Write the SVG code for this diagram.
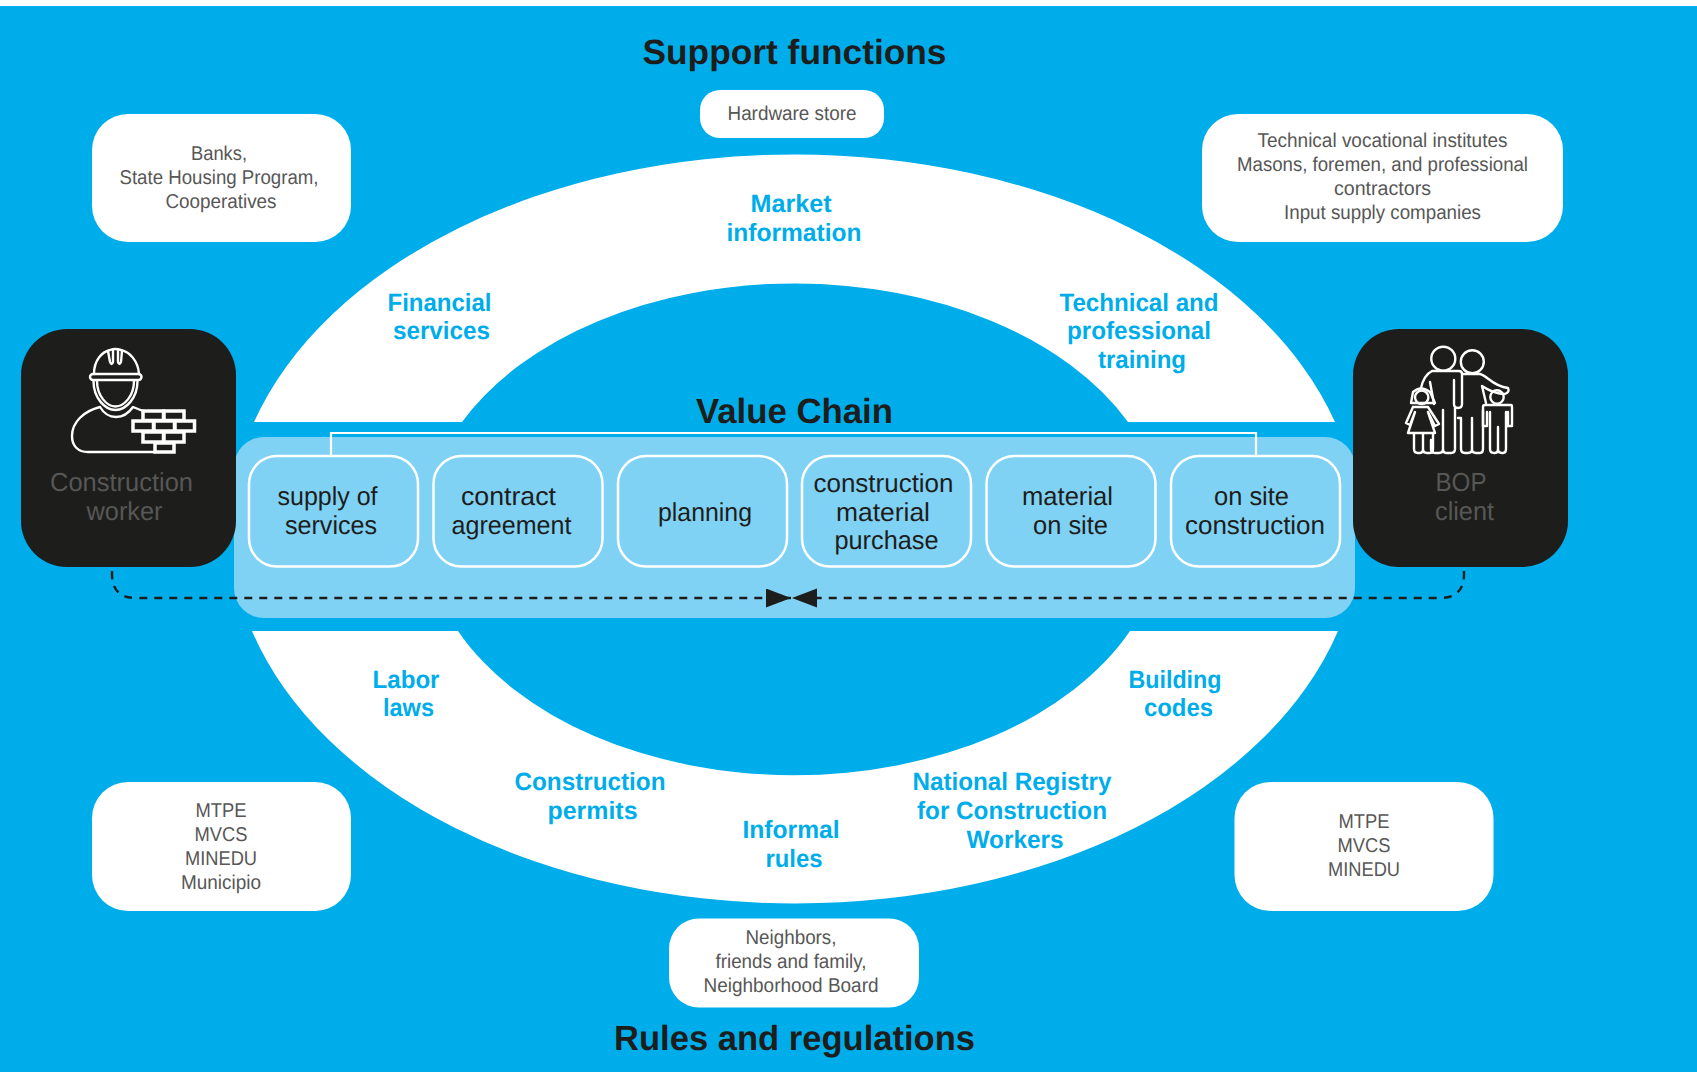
<svg xmlns="http://www.w3.org/2000/svg" width="1697" height="1072" viewBox="0 0 1697 1072">
<style>
text{font-family:"Liberation Sans",Arial,sans-serif;text-anchor:middle;text-rendering:geometricPrecision}
.h{font-size:35px;font-weight:700;fill:#1d1d1b}
.b{font-size:25px;font-weight:700;fill:#00adeb}
.p{font-size:20px;fill:#575756}
.s{font-size:26px;fill:#1d1d1b}
.n{font-size:26px;fill:#575756}
.pill{fill:#fff}
.step{fill:#80d2f5;stroke:#fff;stroke-width:2.5}
.black{fill:#1d1d1b}
.ic{fill:none;stroke:#fff;stroke-width:2.4;stroke-linecap:round;stroke-linejoin:round}
.br{fill:#1d1d1b;stroke:#fff;stroke-width:3.5}
.dash{fill:none;stroke:#1d1d1b;stroke-width:2.4;stroke-dasharray:8 7}
</style>
<defs>
<marker id="tip" markerUnits="userSpaceOnUse" markerWidth="26" markerHeight="20" refX="25" refY="9.5" orient="auto"><path d="M0 0L25 9.5L0 19Z" fill="#1d1d1b"/></marker>
</defs>
<rect width="1697" height="1072" fill="#fff"/>
<rect y="6" width="1697" height="1066" fill="#00adeb"/>
<g id="ring">
<path d="M254 422A564 374.500 0 0 1 1335 422H1128A370 245.700 0 0 0 462 422Z" fill="#fff"/>
<path d="M252 631A564.500 375 0 0 0 1338 631H1130A369 245.700 0 0 1 458 631Z" fill="#fff"/>
</g>
<g id="value-chain-panel"><rect x="234" y="437" width="1121" height="181" rx="30" fill="#80d2f5"/></g>
<text class="h" x="794.500" y="64" textLength="304" lengthAdjust="spacingAndGlyphs">Support functions</text>
<text class="h" x="794.500" y="423" textLength="197" lengthAdjust="spacingAndGlyphs">Value Chain</text>
<text class="h" x="794.500" y="1050" textLength="361" lengthAdjust="spacingAndGlyphs">Rules and regulations</text>
<g id="labels-ring">
<text class="b" x="791" y="212" textLength="81" lengthAdjust="spacingAndGlyphs">Market</text>
<text class="b" x="794" y="241" textLength="135" lengthAdjust="spacingAndGlyphs">information</text>
<text class="b" x="439.500" y="310.500" textLength="104" lengthAdjust="spacingAndGlyphs">Financial</text>
<text class="b" x="441.500" y="339" textLength="97" lengthAdjust="spacingAndGlyphs">services</text>
<text class="b" x="1139" y="310.500" textLength="159" lengthAdjust="spacingAndGlyphs">Technical and</text>
<text class="b" x="1139" y="339" textLength="144" lengthAdjust="spacingAndGlyphs">professional</text>
<text class="b" x="1142" y="368" textLength="88" lengthAdjust="spacingAndGlyphs">training</text>
<text class="b" x="406" y="688" textLength="67" lengthAdjust="spacingAndGlyphs">Labor</text>
<text class="b" x="408.500" y="716" textLength="51" lengthAdjust="spacingAndGlyphs">laws</text>
<text class="b" x="1175" y="688" textLength="93" lengthAdjust="spacingAndGlyphs">Building</text>
<text class="b" x="1178.500" y="716" textLength="69" lengthAdjust="spacingAndGlyphs">codes</text>
<text class="b" x="590" y="790" textLength="151" lengthAdjust="spacingAndGlyphs">Construction</text>
<text class="b" x="592.500" y="819" textLength="90" lengthAdjust="spacingAndGlyphs">permits</text>
<text class="b" x="791" y="838" textLength="97" lengthAdjust="spacingAndGlyphs">Informal</text>
<text class="b" x="794" y="867" textLength="57" lengthAdjust="spacingAndGlyphs">rules</text>
<text class="b" x="1012" y="790" textLength="199" lengthAdjust="spacingAndGlyphs">National Registry</text>
<text class="b" x="1012" y="819" textLength="190" lengthAdjust="spacingAndGlyphs">for Construction</text>
<text class="b" x="1015" y="848" textLength="97" lengthAdjust="spacingAndGlyphs">Workers</text>
</g>
<g id="hardware-store"><rect class="pill" x="700" y="90" width="184" height="48" rx="20"/>
<text class="p" x="792" y="120" textLength="129" lengthAdjust="spacingAndGlyphs">Hardware store</text></g>
<g id="banks"><rect class="pill" x="92" y="114" width="259" height="128" rx="36"/>
<text class="p" x="219" y="160" textLength="56" lengthAdjust="spacingAndGlyphs">Banks,</text>
<text class="p" x="219" y="184" textLength="199" lengthAdjust="spacingAndGlyphs">State Housing Program,</text>
<text class="p" x="221" y="208" textLength="111" lengthAdjust="spacingAndGlyphs">Cooperatives</text></g>
<g id="technical"><rect class="pill" x="1202" y="114" width="361" height="128" rx="36"/>
<text class="p" x="1382.500" y="147" textLength="250" lengthAdjust="spacingAndGlyphs">Technical vocational institutes</text>
<text class="p" x="1382.500" y="171" textLength="291" lengthAdjust="spacingAndGlyphs">Masons, foremen, and professional</text>
<text class="p" x="1382.500" y="195" textLength="97" lengthAdjust="spacingAndGlyphs">contractors</text>
<text class="p" x="1382.500" y="219" textLength="197" lengthAdjust="spacingAndGlyphs">Input supply companies</text></g>
<g id="regulators-left"><rect class="pill" x="92" y="782" width="259" height="129" rx="36"/>
<text class="p" x="221" y="817" textLength="51" lengthAdjust="spacingAndGlyphs">MTPE</text>
<text class="p" x="221" y="841" textLength="53" lengthAdjust="spacingAndGlyphs">MVCS</text>
<text class="p" x="221" y="865" textLength="72" lengthAdjust="spacingAndGlyphs">MINEDU</text>
<text class="p" x="221" y="889" textLength="80" lengthAdjust="spacingAndGlyphs">Municipio</text></g>
<g id="regulators-right"><rect class="pill" x="1234.500" y="782" width="259" height="129" rx="36"/>
<text class="p" x="1364" y="828" textLength="51" lengthAdjust="spacingAndGlyphs">MTPE</text>
<text class="p" x="1364" y="852" textLength="53" lengthAdjust="spacingAndGlyphs">MVCS</text>
<text class="p" x="1364" y="876" textLength="72" lengthAdjust="spacingAndGlyphs">MINEDU</text></g>
<g id="neighbors"><rect class="pill" x="669" y="918.500" width="250" height="89" rx="30"/>
<text class="p" x="791" y="944" textLength="91" lengthAdjust="spacingAndGlyphs">Neighbors,</text>
<text class="p" x="791" y="968" textLength="151" lengthAdjust="spacingAndGlyphs">friends and family,</text>
<text class="p" x="791" y="992" textLength="175" lengthAdjust="spacingAndGlyphs">Neighborhood Board</text></g>
<g id="connectors">
<path d="M331 456V433H1256V456" fill="none" stroke="#fff" stroke-width="2.200"/>
<path class="dash" d="M112 571V574Q112 598 136 598H791" marker-end="url(#tip)"/>
<path class="dash" d="M1464 571V574Q1464 598 1440 598H792" marker-end="url(#tip)"/>
</g>
<g id="step-1"><rect class="step" x="249" y="456" width="169" height="110.500" rx="28"/>
<text class="s" x="327.500" y="505" textLength="100" lengthAdjust="spacingAndGlyphs">supply of</text><text class="s" x="331" y="534" textLength="92" lengthAdjust="spacingAndGlyphs">services</text></g>
<g id="step-2"><rect class="step" x="433.500" y="456" width="169" height="110.500" rx="28"/>
<text class="s" x="508.500" y="505" textLength="95" lengthAdjust="spacingAndGlyphs">contract</text><text class="s" x="511.500" y="534" textLength="120" lengthAdjust="spacingAndGlyphs">agreement</text></g>
<g id="step-3"><rect class="step" x="618" y="456" width="169" height="110.500" rx="28"/>
<text class="s" x="705" y="520.500" textLength="94" lengthAdjust="spacingAndGlyphs">planning</text></g>
<g id="step-4"><rect class="step" x="802" y="456" width="169" height="110.500" rx="28"/>
<text class="s" x="883.500" y="492" textLength="140" lengthAdjust="spacingAndGlyphs">construction</text><text class="s" x="883" y="520.500" textLength="94" lengthAdjust="spacingAndGlyphs">material</text><text class="s" x="886.500" y="549" textLength="104" lengthAdjust="spacingAndGlyphs">purchase</text></g>
<g id="step-5"><rect class="step" x="986.500" y="456" width="169" height="110.500" rx="28"/>
<text class="s" x="1067.500" y="505" textLength="91" lengthAdjust="spacingAndGlyphs">material</text><text class="s" x="1070.500" y="534" textLength="75" lengthAdjust="spacingAndGlyphs">on site</text></g>
<g id="step-6"><rect class="step" x="1171" y="456" width="169" height="110.500" rx="28"/>
<text class="s" x="1251.500" y="505" textLength="75" lengthAdjust="spacingAndGlyphs">on site</text><text class="s" x="1255" y="534" textLength="140" lengthAdjust="spacingAndGlyphs">construction</text></g>
<g id="construction-worker">
<rect class="black" x="21" y="329" width="215" height="238" rx="46"/>
<path class="ic" d="M94 374C94 360 102 352 110 350Q115 348 121 350C130 352 138 361 139 374"/>
<path class="ic" d="M108 351L110 362Q112 366 113 362L113 350M122 351L121 362Q119 366 118 362L118 350"/>
<rect class="ic" x="90" y="374" width="51.500" height="6" rx="3"/>
<path class="ic" d="M93.500 381C93.500 398 105 410 115.500 410C126 410 137.500 398 137.500 381M97 381C97 396 107 406.500 115.500 406.500C124 406.500 134 396 134 381"/>
<path class="ic" d="M100 407C84 411 72 422 72 436C72 446 78 452 88 452H155M100 407Q106 417 116 417Q126 417 133 407L143 411"/>
<g>
<rect class="br" x="143" y="411" width="20.500" height="9.500"/><rect class="br" x="164" y="411" width="20" height="9.500"/>
<rect class="br" x="133" y="421" width="20.500" height="10"/><rect class="br" x="154" y="421" width="20.500" height="10"/><rect class="br" x="175" y="421" width="19.500" height="10"/>
<rect class="br" x="143" y="432" width="20.500" height="10"/><rect class="br" x="164" y="432" width="20" height="10"/>
<rect class="br" x="155" y="443" width="19" height="9"/>
</g>
<text class="n" x="121.500" y="491" textLength="143" lengthAdjust="spacingAndGlyphs">Construction</text><text class="n" x="124.500" y="520" textLength="76" lengthAdjust="spacingAndGlyphs">worker</text>
</g>
<g id="bop-client">
<rect class="black" x="1353" y="329" width="215" height="238" rx="46"/>
<circle class="ic" cx="1443.300" cy="358.700" r="12"/><circle class="ic" cx="1472.300" cy="361.700" r="11.500"/>
<path class="ic" d="M1421 388Q1424 375 1432 371H1459Q1462 371 1462 374V404Q1462 408 1458 408Q1454 408 1454 404V380M1430 382L1434 404M1455 408V449Q1455 453 1451 453H1446Q1443 453 1443 449V410M1443 449Q1443 453 1439 453H1435Q1431 453 1431 449V440"/>
<path class="ic" d="M1463 374H1480C1488 376 1492 386 1508 388Q1510 392 1505 394C1495 394 1488 390 1482 386L1486 403M1458 418H1461V449Q1461 453 1465 453H1468Q1472 453 1472 449V418M1472 449Q1472 453 1476 453H1480Q1483 453 1483 449V410"/>
<circle class="ic" cx="1421.700" cy="397.300" r="6.700"/>
<path class="ic" d="M1413 392Q1421 385 1430 392L1435 403H1411Z"/>
<path class="ic" d="M1413 407H1428L1439 424L1435 426L1428 412M1413 407L1406 423L1410 425L1415 412L1408 433H1435L1428 412M1414 433V449Q1414 453 1418 453H1420Q1423 453 1423 449V433M1423 449Q1423 453 1427 453H1430Q1433 453 1433 449V433"/>
<circle class="ic" cx="1497" cy="397" r="6.700"/>
<path class="ic" d="M1485 405H1511Q1512 405 1512 407V426H1508V412M1485 405Q1483 405 1483 407V426H1487V412M1490 427V449Q1490 453 1494 453H1495Q1498 453 1498 449V427M1498 449Q1498 453 1502 453H1503Q1506 453 1506 449V412M1490 412V427"/>
<text class="n" x="1461" y="491" textLength="51" lengthAdjust="spacingAndGlyphs">BOP</text><text class="n" x="1464.500" y="520" textLength="59" lengthAdjust="spacingAndGlyphs">client</text>
</g>
</svg>
